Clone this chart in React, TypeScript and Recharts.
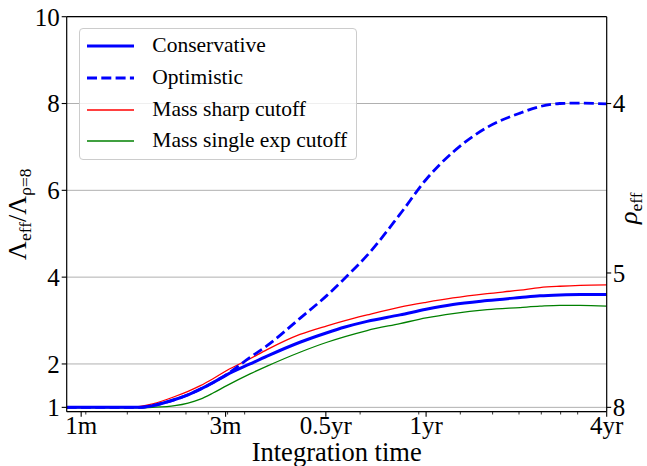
import React from 'react';
import { LineChart, Line, XAxis, YAxis, CartesianGrid, ReferenceLine, Legend } from 'recharts';

// Integration time in years (log axis)
const timeYears = [0.0833, 0.105, 0.129, 0.1383, 0.151, 0.176, 0.1928, 0.21, 0.2292, 0.252, 0.296, 0.333, 0.418, 0.504, 0.571, 0.665, 0.835, 1.0, 1.204, 1.525, 1.915, 2.197, 2.52, 2.9, 3.486];
// Lambda_eff / Lambda_{rho=8}
const conservative = [1.0, 1.0, 1.0, 1.0, 1.04, 1.18, 1.29, 1.42, 1.57, 1.75, 2.0, 2.18, 2.5, 2.72, 2.85, 2.98, 3.13, 3.26, 3.37, 3.46, 3.53, 3.57, 3.59, 3.6, 3.6];
const optimistic = [1.0, 1.0, 1.0, 1.0, 1.04, 1.18, 1.29, 1.42, 1.57, 1.76, 2.15, 2.42, 3.05, 3.58, 3.98, 4.5, 5.45, 6.25, 6.88, 7.45, 7.78, 7.93, 8.0, 8.01, 7.99];
const sharpCutoff = [1.0, 1.0, 1.0, 1.02, 1.08, 1.25, 1.37, 1.5, 1.66, 1.85, 2.12, 2.33, 2.68, 2.88, 3.0, 3.13, 3.31, 3.42, 3.52, 3.62, 3.7, 3.76, 3.79, 3.81, 3.82];
const singleExpCutoff = [0.99, 0.99, 0.99, 0.99, 1.0, 1.04, 1.1, 1.19, 1.33, 1.5, 1.77, 1.95, 2.27, 2.5, 2.63, 2.77, 2.93, 3.06, 3.16, 3.25, 3.3, 3.33, 3.35, 3.35, 3.33];

// Axis ticks
const xMajorTicks = [0.0921, 0.25, 0.5, 1, 3.486];
const xMajorLabels = ['1m', '3m', '0.5yr', '1yr', '4yr'];
const xMinorTicks = [0.0951, 0.1267, 0.1584, 0.1901, 0.2218, 0.2535, 0.2852, 0.6337, 0.9506, 1.267, 1.584, 1.901, 2.218, 2.535, 2.852];
const xDomain = [0.08333, 3.486];
const yLeftTicks = [1, 2, 4, 6, 8, 10];
const yDomain = [0.9, 10];
const rhoTicks = [8, 5, 4]; // rho_eff values on right axis
const rhoRef = 8;

const FONT = "'Liberation Serif', 'DejaVu Serif', serif";

const series = [
  { key: 'conservative', name: 'Conservative', color: '#0000ff', width: 3, dash: undefined as string | undefined },
  { key: 'optimistic', name: 'Optimistic', color: '#0000ff', width: 2.8, dash: '10 4.3' },
  { key: 'sharp', name: 'Mass sharp cutoff', color: '#ff0000', width: 1.3, dash: undefined },
  { key: 'single', name: 'Mass single exp cutoff', color: '#008000', width: 1.3, dash: undefined },
];

const data = timeYears.map((t, i) => ({
  t,
  conservative: conservative[i],
  optimistic: optimistic[i],
  sharp: sharpCutoff[i],
  single: singleExpCutoff[i],
}));

const rhoToLambda = (rho: number) => Math.pow(rhoRef / rho, 3);
const rightTicks = rhoTicks.map(rhoToLambda);

const XTick = (props: any) => {
  const { x, y, payload } = props;
  const idx = xMajorTicks.indexOf(payload.value);
  const major = idx >= 0;
  return (
    <g>
      <line x1={x} x2={x} y1={y} y2={y + (major ? 5 : 2.8)} stroke="#000" strokeWidth={major ? 1.1 : 0.8} />
      {major && (
        <text x={x} y={y + 22} textAnchor="middle" fontFamily={FONT} fontSize={25} fill="#000">
          {xMajorLabels[idx]}
        </text>
      )}
    </g>
  );
};

const LeftLabel = (props: any) => {
  const vb = props.viewBox || { x: 0, y: 16.7, width: 66.7, height: 395 };
  const cx = vb.x + 26;
  const cy = vb.y + vb.height / 2;
  return (
    <text x={cx} y={cy} transform={`rotate(-90, ${cx}, ${cy})`} textAnchor="middle" fontFamily={FONT} fontSize={26} fill="#000">
      Λ<tspan fontSize={17.5} dy={5}>eff</tspan>
      <tspan dy={-5}>/Λ</tspan>
      <tspan fontSize={17.5} dy={5}>ρ=8</tspan>
    </text>
  );
};

const RightLabel = (props: any) => {
  const vb = props.viewBox || { x: 606.7, y: 16.7, width: 40.3, height: 395 };
  const cx = vb.x + 30;
  const cy = vb.y + vb.height / 2 - 6;
  return (
    <text x={cx} y={cy} transform={`rotate(-90, ${cx}, ${cy})`} textAnchor="middle" fontFamily={FONT} fontSize={26} fill="#000">
      <tspan fontStyle="italic">ρ</tspan>
      <tspan fontSize={17.5} dy={5}>eff</tspan>
    </text>
  );
};

const BottomLabel = (props: any) => {
  const vb = props.viewBox || { x: 66.7, y: 411.7, width: 540, height: 54.3 };
  return (
    <text x={vb.x + vb.width / 2} y={vb.y + 49.5} textAnchor="middle" fontFamily={FONT} fontSize={26.5} fill="#000">
      Integration time
    </text>
  );
};

const renderLegend = () => (
  <div
    style={{
      width: 278,
      height: 132,
      boxSizing: 'border-box',
      border: '1px solid #cccccc',
      borderRadius: 4,
      background: 'rgba(255,255,255,0.8)',
      fontFamily: FONT,
      fontSize: 21.5,
      color: '#000',
      paddingTop: 1,
      paddingLeft: 7,
    }}
  >
    {series.map((s) => (
      <div key={s.key} style={{ display: 'flex', alignItems: 'center', height: 31.7, whiteSpace: 'nowrap' }}>
        <svg width={48} height={10} style={{ display: 'block' }}>
          <line x1={0} x2={47} y1={5} y2={5} stroke={s.color} strokeWidth={s.width} strokeDasharray={s.dash} />
        </svg>
        <span style={{ marginLeft: 17, lineHeight: '31.7px' }}>{s.name}</span>
      </div>
    ))}
  </div>
);

export default function App() {
  const drawOrder = [series[3], series[2], series[1], series[0]];
  return (
    <div style={{ position: 'absolute', left: 0, top: 0, width: 647, height: 466, background: '#fff', fontFamily: FONT }}>
      <LineChart width={647} height={466} data={data} margin={{ top: 16.7, right: 0, bottom: 0, left: 0 }}>
        <CartesianGrid
          xAxisId="main"
          yAxisId="left"
          stroke="#b0b0b0"
          strokeWidth={1}
          horizontal
          vertical
          verticalCoordinatesGenerator={({ xAxis }: any) =>
            xAxis && typeof xAxis.scale === 'function' ? xMajorTicks.map((v) => xAxis.scale(v)) : []
          }
        />
        <XAxis
          xAxisId="main"
          dataKey="t"
          type="number"
          scale="log"
          domain={xDomain}
          allowDataOverflow
          ticks={[...xMajorTicks, ...xMinorTicks]}
          interval={0}
          tickLine={false}
          tickSize={0}
          tickMargin={0}
          tick={<XTick />}
          height={54.3}
          axisLine={{ stroke: '#000', strokeWidth: 1.2 }}
          label={BottomLabel}
        />
        <YAxis
          yAxisId="left"
          type="number"
          domain={yDomain}
          allowDataOverflow
          ticks={yLeftTicks}
          interval={0}
          width={66.7}
          tickSize={5}
          tickMargin={2}
          tickLine={{ stroke: '#000', strokeWidth: 1.1 }}
          axisLine={{ stroke: '#000', strokeWidth: 1.2 }}
          tick={{ fill: '#000', fontSize: 25, fontFamily: FONT }}
          label={LeftLabel}
        />
        <YAxis
          yAxisId="right"
          orientation="right"
          type="number"
          domain={yDomain}
          allowDataOverflow
          ticks={rightTicks}
          interval={0}
          width={40.3}
          tickSize={4.5}
          tickMargin={1.5}
          tickFormatter={(v: number) => String(Math.round(rhoRef / Math.cbrt(v)))}
          tickLine={{ stroke: '#000', strokeWidth: 1.1 }}
          axisLine={{ stroke: '#000', strokeWidth: 1.2 }}
          tick={{ fill: '#000', fontSize: 25, fontFamily: FONT }}
          label={RightLabel}
        />
        <ReferenceLine xAxisId="main" yAxisId="left" y={10} stroke="#000" strokeWidth={1.2} />
        {drawOrder.map((s) => (
          <Line
            key={s.key}
            xAxisId="main"
            yAxisId="left"
            dataKey={s.key}
            name={s.name}
            type="monotone"
            stroke={s.color}
            strokeWidth={s.width}
            strokeDasharray={s.dash}
            dot={false}
            activeDot={false}
            isAnimationActive={false}
          />
        ))}
        <Legend
          layout="vertical"
          align="center"
          verticalAlign="middle"
          content={renderLegend}
          wrapperStyle={{ position: 'absolute', left: 79.3, top: 28.3, width: 278, height: 132 }}
        />
      </LineChart>
    </div>
  );
}
